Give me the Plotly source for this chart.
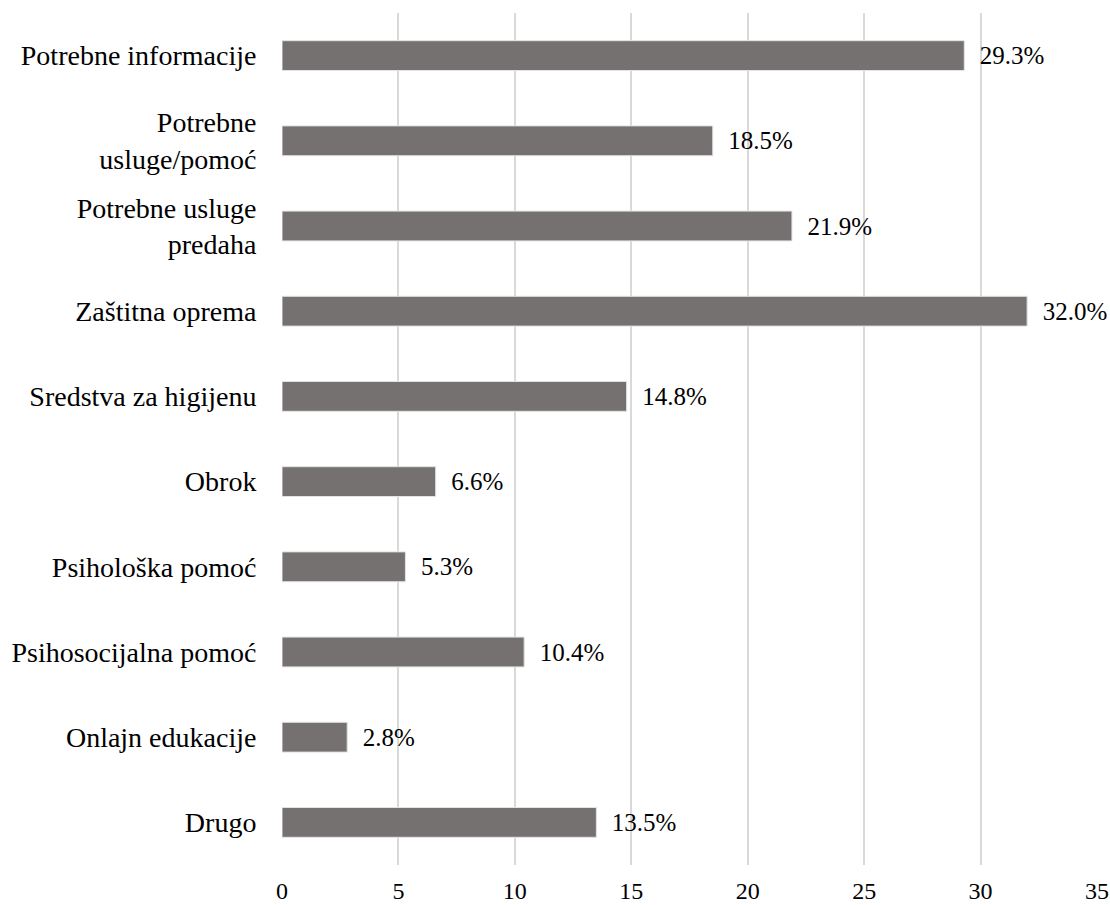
import plotly.graph_objects as go

categories = [
    "Potrebne informacije",
    "Potrebne<br>usluge/pomoć",
    "Potrebne usluge<br>predaha",
    "Zaštitna oprema",
    "Sredstva za higijenu",
    "Obrok",
    "Psihološka pomoć",
    "Psihosocijalna pomoć",
    "Onlajn edukacije",
    "Drugo",
]
values = [29.3, 18.5, 21.9, 32.0, 14.8, 6.6, 5.3, 10.4, 2.8, 13.5]
labels = ["\u00a0\u00a0" + f"{v:.1f}%" for v in values]
x_ticks = [0, 5, 10, 15, 20, 25, 30, 35]

fig = go.Figure(
    go.Bar(
        x=values,
        y=categories,
        orientation="h",
        width=0.35,
        marker=dict(color="#767171", line=dict(color="#e3e3e3", width=1)),
        text=labels,
        textposition="outside",
        textfont=dict(family="Liberation Serif", size=25, color="#000000"),
        cliponaxis=False,
    )
)

fig.update_layout(
    width=1110,
    height=905,
    margin=dict(l=282, r=13, t=13, b=40),
    paper_bgcolor="white",
    plot_bgcolor="white",
    showlegend=False,
    font=dict(family="Liberation Serif", size=24, color="#000000"),
    xaxis=dict(
        range=[0, 35],
        tickvals=x_ticks,
        showgrid=True,
        gridcolor="#d9d9d9",
        gridwidth=1.5,
        zeroline=False,
        showline=False,
        tickfont=dict(family="Liberation Serif", size=24),
        ticks="outside",
        ticklen=4,
        tickcolor="rgba(0,0,0,0)",
        automargin=False,
    ),
    yaxis=dict(
        categoryorder="array",
        categoryarray=categories,
        autorange="reversed",
        showgrid=False,
        showline=False,
        tickfont=dict(family="Liberation Serif", size=28),
        ticks="outside",
        ticklen=19,
        tickcolor="rgba(0,0,0,0)",
        automargin=False,
    ),
)

# remove the browser's default 8px body margin so the figure fills the window
fig.write_html(
    "out.html",
    config={"displayModeBar": False},
    post_script="document.body.style.margin='0';document.body.style.overflow='hidden';",
)
